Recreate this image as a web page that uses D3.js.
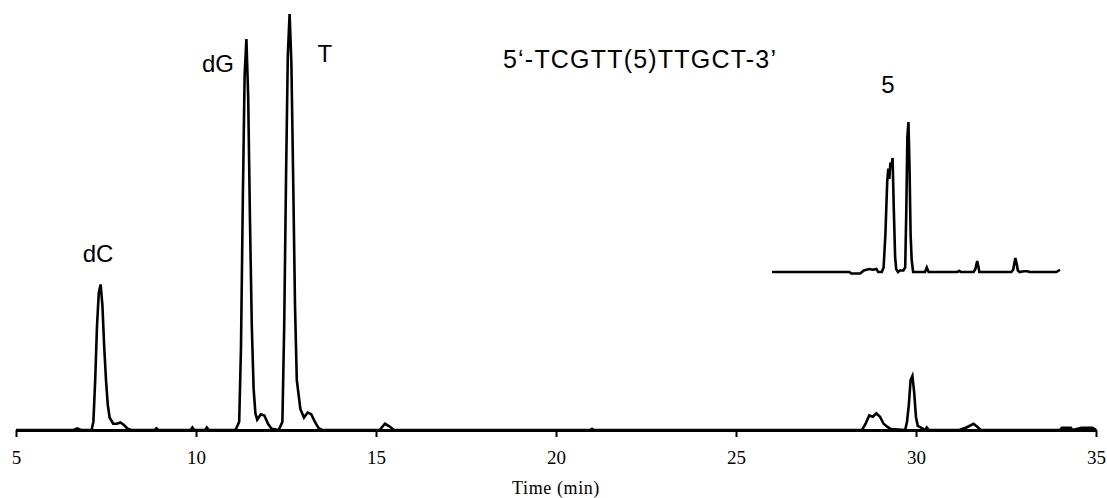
<!DOCTYPE html>
<html><head><meta charset="utf-8">
<script src="https://cdn.jsdelivr.net/npm/d3@7/dist/d3.min.js"></script>
<style>body{margin:0;background:#fff}svg{display:block}</style>
</head><body><div id="chart"></div>
<script>
// Main chromatogram (time in min, relative absorbance 0-100)
const mainTime = [5.0,6.6,6.7,6.8,7.1,7.15,7.2,7.25,7.3,7.35,7.4,7.45,7.5,7.55,7.6,7.7,7.8,7.9,8.0,8.1,8.2,
  8.85,8.9,8.95,9.85,9.9,9.95,10.25,10.3,10.35,
  11.1,11.2,11.25,11.3,11.35,11.4,11.45,11.5,11.55,11.6,11.65,11.7,11.8,11.9,12.0,12.1,12.3,
  12.4,12.45,12.5,12.55,12.6,12.65,12.7,12.75,12.8,12.9,13.0,13.1,13.2,13.3,13.4,13.5,
  15.1,15.25,15.35,15.5,20.95,21.0,21.05,
  28.5,28.6,28.7,28.8,28.9,29.0,29.1,29.2,29.3,29.7,29.75,29.8,29.85,29.9,29.95,30.0,30.05,30.15,
  30.25,30.3,30.35,31.2,31.4,31.6,31.7,31.8,
  34.0,34.05,34.3,34.35,34.6,34.9,35.0];
const mainSignal = [0,0,0.4,0,0,2,12,25,33,35,30,20,12,6,3,1.5,1.5,1.8,1.2,0.3,0,
  0,0.4,0,0,0.6,0,0,0.6,0,
  0,2,20,55,85,94,80,50,25,10,4,2.5,3.8,3.5,1.5,0.3,0,
  2,25,60,90,100,88,60,30,12,5,3,4.2,3.8,2,0.5,0,
  0,1.5,1,0,0,0.3,0,
  0,1.5,3.5,3.2,4,3.2,1.5,0.8,0.2,0,2,6,12,13,9,3,1,0.5,
  0,0.6,0,0,0.6,1.5,0.8,0,
  0,0.5,0.5,0,0.5,0.5,0];

// Inset chromatogram of compound 5 (relative 0-100)
const insetTime = [26.0,28.15,28.2,28.45,28.55,28.7,28.8,28.9,28.95,29.05,29.1,29.15,29.2,29.23,29.26,29.29,29.32,29.35,29.38,29.42,29.45,29.5,
  29.55,29.65,29.7,29.73,29.76,29.79,29.82,29.85,29.88,29.92,
  30.25,30.3,30.35,31.15,31.2,31.25,31.6,31.65,31.7,31.73,31.76,
  32.65,32.7,32.76,32.8,32.83,32.88,33.0,33.1,33.15,33.9,34.0];
const insetSignal = [0,0,-1,-1,1,2,1.5,2,0,0,3,25,60,69,62,73,70,76,45,10,2,0,
  1,1,3,40,90,100,70,25,8,0,
  0,3,0,0,0.8,0,0,2,7.3,4,0,
  0,1.5,9.3,5,1,0,0.5,0.5,0,0,1.5];

const xTicks = [5,10,15,20,25,30,35];
const peakLabels = [
  {text:"dC", t:7.28, v:40.4},
  {text:"dG", t:10.61, v:86.0},
  {text:"T", t:13.58, v:88.4},
  {text:"5", t:29.22, v:81.0}
];
const titleText = "5\u2018-TCGTT(5)TTGCT-3\u2019";
const xTitle = "Time (min)";

const W = 1107, H = 498;
const svg = d3.select("#chart").append("svg").attr("width", W).attr("height", H);
svg.append("rect").attr("width", W).attr("height", H).attr("fill", "#fff");

const x = d3.scaleLinear().domain([5, 35]).range([16, 1096]);
const y = d3.scaleLinear().domain([0, 100]).range([430, 14]);
const yIn = d3.scaleLinear().domain([0, 100]).range([272, 122]);

const line = d3.line().x(d => x(d[0])).y(d => d[2](d[1]));
const mainData = mainTime.map((t, i) => [t, mainSignal[i], y]);
const insetData = insetTime.map((t, i) => [t, insetSignal[i], yIn]);

svg.append("path").attr("d", line(mainData)).attr("fill", "none")
  .attr("stroke", "#000").attr("stroke-width", 2.6).attr("stroke-linejoin", "miter");
svg.append("path").attr("d", line(insetData)).attr("fill", "none")
  .attr("stroke", "#000").attr("stroke-width", 2.6).attr("stroke-linejoin", "miter");

// x axis
const axis = d3.axisBottom(x).tickValues(xTicks).tickSize(7).tickPadding(14).tickSizeOuter(0);
const g = svg.append("g").attr("transform", "translate(0,430)").call(axis);
g.select(".domain").attr("stroke", "#000").attr("stroke-width", 3);
g.selectAll(".tick line").attr("stroke", "#000").attr("stroke-width", 2);
g.selectAll(".tick text").attr("font-family", "Liberation Serif, Times New Roman, serif")
  .attr("font-size", 19).attr("fill", "#000");

svg.append("text").attr("x", x(20)).attr("y", 494).attr("text-anchor", "middle")
  .attr("font-family", "Liberation Serif, Times New Roman, serif").attr("font-size", 18)
  .attr("letter-spacing", 0.6)
  .text(xTitle);

svg.selectAll(".plabel").data(peakLabels).enter().append("text")
  .attr("x", d => x(d.t)).attr("y", d => y(d.v)).attr("text-anchor", "middle")
  .attr("font-family", "Liberation Sans, Arial, sans-serif").attr("font-size", 24)
  .text(d => d.text);

svg.append("text").attr("x", 503).attr("y", 68)
  .attr("font-family", "Liberation Sans, Arial, sans-serif").attr("font-size", 25)
  .attr("letter-spacing", 1.2)
  .text(titleText);
</script></body></html>
